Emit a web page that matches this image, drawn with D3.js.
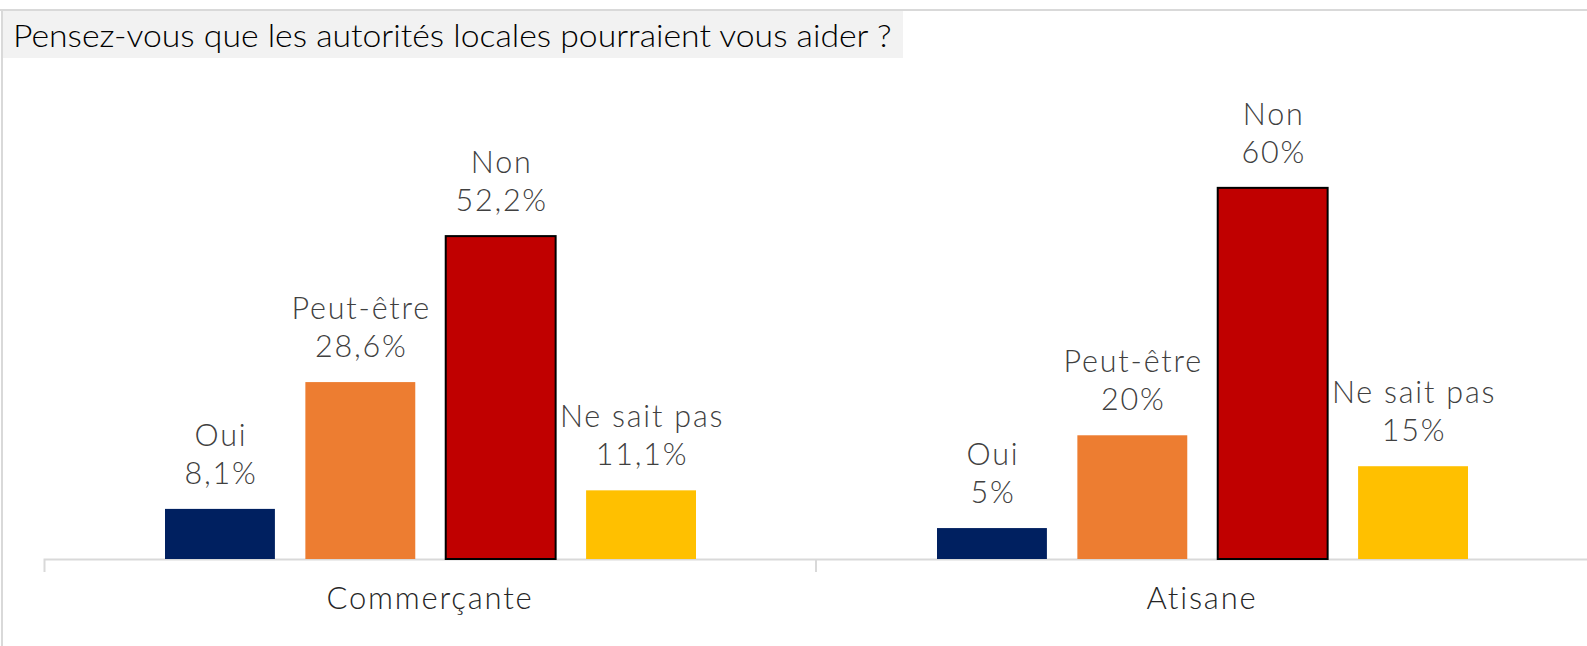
<!DOCTYPE html>
<html>
<head>
<meta charset="utf-8">
<script src="https://cdn.jsdelivr.net/npm/d3@7"></script>
<style>
  body { margin: 0; background: #fff; }
  svg text { font-family: Lato, "Open Sans", sans-serif; }
</style>
</head>
<body>
<svg id="chart" width="1587" height="646"></svg>
<script>
// data
var categories = ["Commerçante", "Atisane"];
var series = ["Oui", "Peut-être", "Non", "Ne sait pas"];
var commercante = [8.1, 28.6, 52.2, 11.1];
var atisane = [5, 20, 60, 15];
var colors = ["#002060", "#ED7D31", "#C00000", "#FFC000"];
var title = "Pensez-vous que les autorités locales pourraient vous aider ?";

var rows = [commercante, atisane];

var svg = d3.select("#chart"),
  width = +svg.attr("width"),
  height = +svg.attr("height"),
  margin = { top: 126, left: 44, bottom: 87 };

var fr = d3.formatLocale({ decimal: ",", thousands: " ", grouping: [3], currency: ["", " €"] });
var fmt = fr.format(".1~f");

var x0 = d3.scaleBand()
  .domain(categories)
  .range([margin.left, width + 1]);

var x1 = d3.scaleBand()
  .domain(series)
  .range([121, 652])
  .paddingInner(0.217);

var y = d3.scaleLinear()
  .domain([0, 70])
  .range([height - margin.bottom, margin.top]);

// frame
svg.append("line")
  .attr("x1", 0).attr("x2", width).attr("y1", 10).attr("y2", 10)
  .attr("stroke", "#d9d9d9").attr("stroke-width", 2);
svg.append("line")
  .attr("x1", 2).attr("x2", 2).attr("y1", 10).attr("y2", height)
  .attr("stroke", "#d9d9d9").attr("stroke-width", 2);

// title
svg.append("rect")
  .attr("x", 3).attr("y", 11)
  .attr("width", 900).attr("height", 47)
  .attr("fill", "#f2f2f2");

var t = svg.append("text")
  .attr("font-size", 32)
  .attr("font-weight", 300)
  .attr("fill", "#000")
  .text(title);
// title font in the original is very narrow, squeeze it to its width
var k = 879 / t.node().getComputedTextLength();
t.attr("transform", "translate(13,46.5) scale(" + k + ",1)");

// axis
var axis = svg.append("g")
  .attr("transform", "translate(0," + y(0) + ")")
  .call(d3.axisBottom(x0).tickSizeInner(0).tickSizeOuter(13).tickPadding(28));

axis.select(".domain").attr("stroke", "#d9d9d9").attr("stroke-width", 2);
axis.selectAll(".tick text")
  .attr("font-size", 31)
  .attr("fill", "#262626")
  .attr("font-weight", 300)
  .attr("letter-spacing", 1.8);

axis.selectAll("line.sep")
  .data(categories.slice(1))
  .enter().append("line")
  .attr("class", "sep")
  .attr("x1", function (d) { return x0(d); })
  .attr("x2", function (d) { return x0(d); })
  .attr("y1", 0).attr("y2", 13)
  .attr("stroke", "#d9d9d9").attr("stroke-width", 2);

// bars
var groups = svg.selectAll("g.group")
  .data(categories)
  .enter().append("g")
  .attr("class", "group")
  .attr("transform", function (d) { return "translate(" + x0(d) + ",0)"; });

var bars = groups.selectAll("g.bar")
  .data(function (d, i) {
    return series.map(function (s, j) { return { s: s, v: rows[i][j], c: colors[j] }; });
  })
  .enter().append("g")
  .attr("class", "bar");

bars.append("rect")
  .attr("x", function (d) { return x1(d.s); })
  .attr("y", function (d) { return y(d.v); })
  .attr("width", x1.bandwidth())
  .attr("height", function (d) { return y(0) - y(d.v); })
  .attr("fill", function (d) { return d.c; })
  .attr("stroke", function (d) { return d.s === "Non" ? "#000" : "none"; })
  .attr("stroke-width", 2);

var lbl = bars.append("text")
  .attr("text-anchor", "middle")
  .attr("font-size", 30.5)
  .attr("font-weight", 300)
  .attr("letter-spacing", 1.8)
  .attr("fill", "#404040")
  .attr("transform", function (d) {
    return "translate(" + (x1(d.s) + x1.bandwidth() / 2 + 1) + "," + y(d.v) + ")";
  });

lbl.append("tspan")
  .attr("x", 0).attr("y", -63)
  .text(function (d) { return d.s; });
lbl.append("tspan")
  .attr("x", 0).attr("y", -25)
  .text(function (d) { return fmt(d.v) + "%"; });
</script>
</body>
</html>
